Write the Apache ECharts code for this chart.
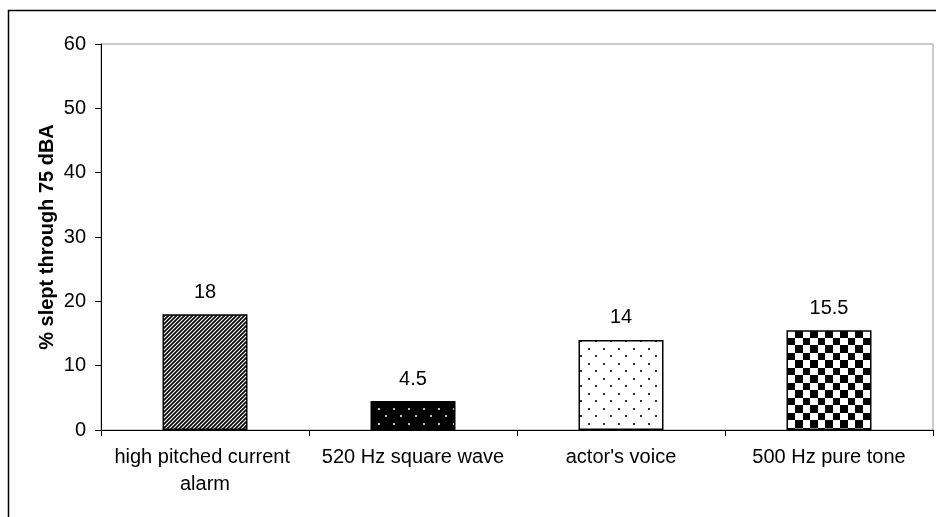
<!DOCTYPE html>
<html>
<head>
<meta charset="utf-8">
<script src="https://cdn.jsdelivr.net/npm/echarts@6/dist/echarts.min.js"></script>
<style>
  html, body { margin: 0; padding: 0; background: #fff; }
  #chart { width: 936px; height: 517px; }
</style>
</head>
<body>
<div id="chart"></div>
<script>
// Alarm signals and share of sleepers who slept through them at 75 dBA
const categories = ['high pitched current alarm', '520 Hz square wave', "actor's voice", '500 Hz pure tone'];
const sleptThrough = [18, 4.5, 14, 15.5];
const yTicks = [0, 10, 20, 30, 40, 50, 60];
const yAxisTitle = '% slept through 75 dBA';

const FONT = '"Liberation Sans", Arial, sans-serif';
const FONT_SIZE = 20;

// --- fill patterns for the bars ---
function tile(w, h, draw) {
  const c = document.createElement('canvas');
  c.width = w; c.height = h;
  const ctx = c.getContext('2d');
  draw(ctx, w, h);
  return c;
}

// dense diagonal hatch (/)
const hatch = tile(4, 4, (ctx, w, h) => {
  ctx.fillStyle = '#fff'; ctx.fillRect(0, 0, w, h);
  ctx.strokeStyle = '#000'; ctx.lineWidth = 1.7;
  ctx.beginPath();
  ctx.moveTo(-1, 1); ctx.lineTo(1, -1);
  ctx.moveTo(0, 4); ctx.lineTo(4, 0);
  ctx.moveTo(3, 5); ctx.lineTo(5, 3);
  ctx.stroke();
});

// staggered dot grid on a given ground
function dots(bg, fg) {
  return tile(15, 15, (ctx, w, h) => {
    ctx.fillStyle = bg; ctx.fillRect(0, 0, w, h);
    ctx.fillStyle = fg;
    ctx.fillRect(3, 3, 2, 2);
    ctx.fillRect(10, 10, 2, 2);
  });
}

// checkerboard
const checker = tile(15, 15, (ctx, w, h) => {
  ctx.fillStyle = '#fff'; ctx.fillRect(0, 0, w, h);
  ctx.fillStyle = '#000';
  ctx.fillRect(0, 0, 8, 8);
  ctx.fillRect(8, 8, 7, 7);
});

const patterns = [hatch, dots('#000', '#bbb'), dots('#fff', '#333'), checker];

const chart = echarts.init(document.getElementById('chart'), null, { renderer: 'canvas' });

chart.setOption({
  backgroundColor: '#fff',
  animation: false,
  graphic: [{
    type: 'rect',
    shape: { x: 8.5, y: 10.5, width: 940, height: 520 },
    style: { fill: 'none', stroke: '#000', lineWidth: 1.5 },
    silent: true
  }],
  grid: {
    left: 101, right: 3, top: 44, bottom: 87,
    show: true, borderColor: '#999', borderWidth: 1, backgroundColor: 'transparent'
  },
  xAxis: {
    type: 'category',
    data: categories,
    axisLine: { lineStyle: { color: '#000', width: 1 } },
    axisTick: { show: true, length: 6, alignWithLabel: false, lineStyle: { color: '#000' } },
    axisLabel: {
      color: '#000', fontFamily: FONT, fontSize: FONT_SIZE,
      margin: 14, lineHeight: 27, width: 200, overflow: 'break', interval: 0
    }
  },
  yAxis: {
    type: 'value',
    min: yTicks[0], max: yTicks[yTicks.length - 1], interval: 10,
    name: yAxisTitle,
    nameLocation: 'middle',
    nameGap: 44,
    nameMoveOverlap: false,
    nameTextStyle: { color: '#000', fontFamily: FONT, fontSize: FONT_SIZE, fontWeight: 'bold' },
    axisLine: { show: true, lineStyle: { color: '#000', width: 1 } },
    axisTick: { show: true, length: 6, lineStyle: { color: '#000' } },
    splitLine: { show: false },
    axisLabel: { color: '#000', fontFamily: FONT, fontSize: FONT_SIZE, margin: 15 }
  },
  series: [{
    type: 'bar',
    barWidth: 85,
    data: sleptThrough.map((v, i) => ({
      value: v,
      itemStyle: {
        color: { image: patterns[i], repeat: 'repeat' },
        borderColor: '#000', borderWidth: 1.5
      }
    })),
    label: {
      show: true, position: 'top', distance: 12,
      color: '#000', fontFamily: FONT, fontSize: FONT_SIZE
    }
  }]
});
</script>
</body>
</html>
